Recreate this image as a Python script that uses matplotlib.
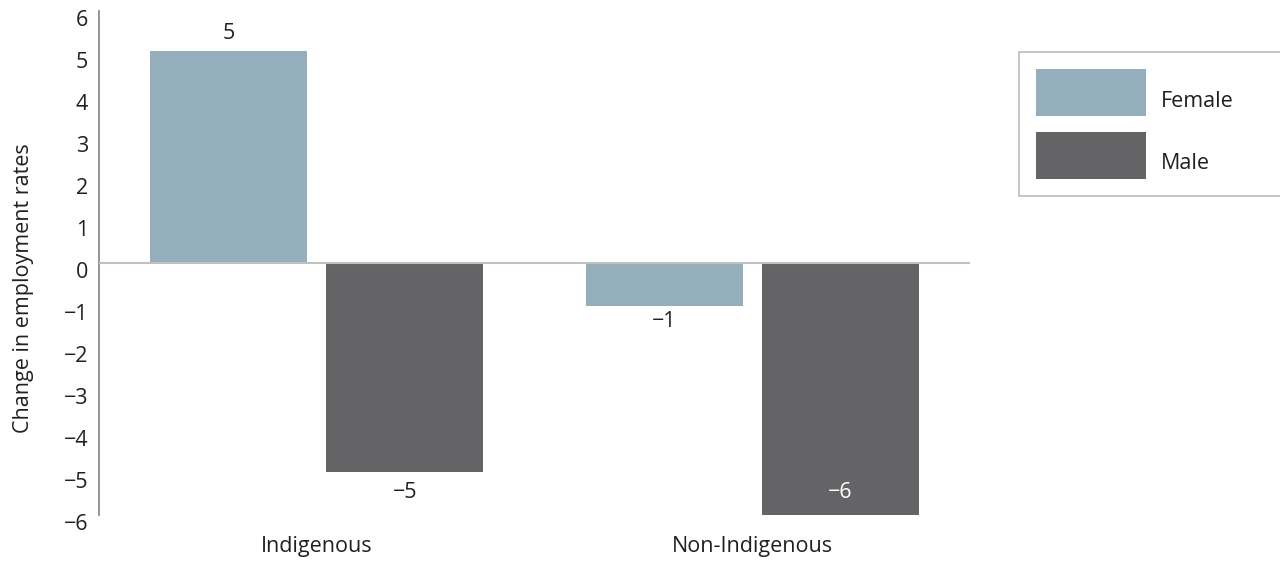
import matplotlib
matplotlib.use("Agg")
import matplotlib.pyplot as plt
import matplotlib.transforms as mtransforms
import numpy as np

plt.rcParams['font.family'] = ['Open Sans', 'DejaVu Sans']

groups = ["Indigenous", "Non-Indigenous"]
series = ["Female", "Male"]
female = [5.05, -1.02]
male = [-4.98, -6.04]
colors = {"Female": "#95AEBB", "Male": "#646466"}
yticks = list(range(-6, 7))

text_color = "#231F20"
fs = 15.5

fig = plt.figure(figsize=(12.8, 5.62), dpi=100)
ax = fig.add_axes([99/1280, 1 - 515/562, (970 - 99)/1280, (515 - 11)/562])

x = np.arange(len(groups))
width = 0.36
offset = 0.202

bars_f = ax.bar(x - offset, female, width, color=colors["Female"], label="Female", zorder=2)
bars_m = ax.bar(x + offset, male, width, color=colors["Male"], label="Male", zorder=2)

ax.axhline(0, color="#C0C0C0", linewidth=1.5, zorder=3)

ax.set_xlim(-0.5, 1.5)
ax.set_ylim(-6, 6)
ax.set_yticks(yticks)
ax.set_xticks(x)
ax.set_xticklabels(groups)

for s in ["top", "right", "bottom"]:
    ax.spines[s].set_visible(False)
ax.spines["left"].set_color("#8C8C8C")
ax.spines["left"].set_linewidth(1.3)

ax.tick_params(axis="both", length=0, labelsize=fs, labelcolor=text_color)
ax.tick_params(axis="y", pad=8)
ax.tick_params(axis="x", pad=15)

# y tick labels sit slightly below their gridline positions
shift = mtransforms.ScaledTranslation(0, -7/100, fig.dpi_scale_trans)
for lbl in ax.get_yticklabels():
    lbl.set_transform(lbl.get_transform() + shift)

ax.set_ylabel("Change in employment rates", fontsize=fs, color=text_color)
ax.yaxis.set_label_coords(-0.075, 0.45)


def fmt(v):
    r = int(round(v))
    return ("\u2212" + str(abs(r))) if r < 0 else str(r)


def label_bars(bars, values, inside_last=False):
    for b, v in zip(bars, values):
        cx = b.get_x() + b.get_width() / 2
        if inside_last and v <= -6:
            ax.annotate(fmt(v), (cx, v), xytext=(0, 10), textcoords="offset points",
                        ha="center", va="bottom", fontsize=fs, color="white",
                        zorder=4, annotation_clip=False)
        elif v >= 0:
            ax.annotate(fmt(v), (cx, v), xytext=(0, 5), textcoords="offset points",
                        ha="center", va="bottom", fontsize=fs, color=text_color,
                        zorder=4, annotation_clip=False)
        else:
            dy = -7 if v < -3 else -4
            ax.annotate(fmt(v), (cx, v), xytext=(0, dy), textcoords="offset points",
                        ha="center", va="top", fontsize=fs, color=text_color,
                        zorder=4, annotation_clip=False)


label_bars(bars_f, female)
label_bars(bars_m, male, inside_last=True)

leg = fig.legend(handles=[bars_f, bars_m], labels=series,
                 loc="upper left",
                 bbox_to_anchor=(1019/1280, 1 - 52/562, 0.3, 0.0),
                 mode="expand",
                 fontsize=fs, frameon=True, fancybox=False,
                 handlelength=5.1, handleheight=2.98,
                 handletextpad=0.7, labelspacing=0.72,
                 borderpad=0.8, borderaxespad=0.0)
leg.get_frame().set_edgecolor("#AAAAAA")
leg.get_frame().set_linewidth(1.2)
for t in leg.get_texts():
    t.set_color(text_color)
    t.set_y(-8)

fig.savefig("out.png", dpi=100)
